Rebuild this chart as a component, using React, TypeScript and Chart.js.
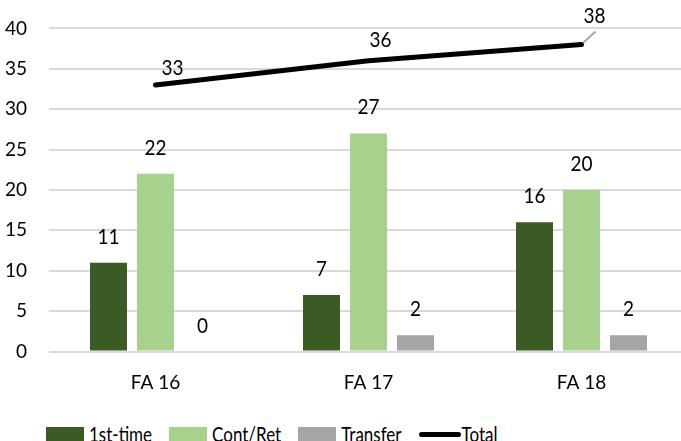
import React, { useEffect, useRef } from "react";
import { Chart, registerables } from "chart.js";

Chart.register(...registerables);

const categories = ["FA 16", "FA 17", "FA 18"];
const firstTime = [11, 7, 16];
const contRet = [22, 27, 20];
const transfer = [0, 2, 2];
const total = [33, 36, 38];
const yMin = 0;
const yMax = 40;
const yStep = 5;

const seriesNames = ["1st-time", "Cont/Ret", "Transfer", "Total"];
const COLORS = ["#3B5A24", "#A9D18E", "#A5A5A5", "#000000"];
const FONT = "Lato, 'Open Sans', sans-serif";
const FS = 19;
// label offsets for the Total line labels (style, not data)
const totalLabelOffsets = [
  [17, -17],
  [12, -21],
  [13, -29],
];

const labelPlugin = {
  id: "valueLabels",
  afterDatasetsDraw(chart: any) {
    const ctx = chart.ctx;
    ctx.save();
    ctx.font = `${FS}px ${FONT}`;
    ctx.fillStyle = "#000";
    ctx.textAlign = "center";
    ctx.textBaseline = "middle";
    const draw = (t: string, x: number, y: number) => {
      ctx.save();
      ctx.translate(x, y);
      ctx.scale(1, 1.15);
      ctx.fillText(t, 0, 0);
      ctx.restore();
    };
    chart.data.datasets.forEach((ds: any, di: number) => {
      const meta = chart.getDatasetMeta(di);
      meta.data.forEach((el: any, i: number) => {
        const v = ds.data[i];
        if (ds.type === "line") {
          const [dx, dy] = totalLabelOffsets[i];
          if (i === 2) {
            ctx.save();
            ctx.strokeStyle = "#A5A5A5";
            ctx.lineWidth = 2;
            ctx.beginPath();
            ctx.moveTo(el.x + 2, el.y - 2);
            ctx.lineTo(el.x + 14, el.y - 13);
            ctx.stroke();
            ctx.restore();
          }
          draw(String(v), el.x + dx, el.y + dy);
        } else {
          draw(String(v), el.x, el.y - 26);
        }
      });
    });
    ctx.restore();
  },
};

export default function App() {
  const ref = useRef<HTMLCanvasElement>(null);
  useEffect(() => {
    const canvas = ref.current!;
    const chart = new Chart(canvas, {
      type: "bar",
      data: {
        labels: categories,
        datasets: [
          {
            type: "line" as any,
            label: seriesNames[3],
            data: total,
            borderColor: COLORS[3],
            backgroundColor: COLORS[3],
            borderWidth: 5,
            borderCapStyle: "round",
            pointRadius: 0,
            order: 0,
          } as any,
          {
            label: seriesNames[0],
            data: firstTime,
            backgroundColor: COLORS[0],
            categoryPercentage: 0.662,
            barPercentage: 0.787,
            order: 1,
          },
          {
            label: seriesNames[1],
            data: contRet,
            backgroundColor: COLORS[1],
            categoryPercentage: 0.662,
            barPercentage: 0.787,
            order: 1,
          },
          {
            label: seriesNames[2],
            data: transfer,
            backgroundColor: COLORS[2],
            categoryPercentage: 0.662,
            barPercentage: 0.787,
            order: 1,
          },
        ],
      },
      options: {
        animation: false,
        responsive: false,
        maintainAspectRatio: false,
        layout: { padding: { top: 23, right: 0, left: 0, bottom: 0 } },
        plugins: {
          legend: { display: false },
          tooltip: { enabled: false },
        },
        scales: {
          x: {
            grid: { display: false, drawTicks: false },
            border: { display: false },
            ticks: {
              color: "#000",
              font: { family: FONT, size: FS },
              padding: 20,
            },
            afterFit: (s: any) => {
              s.height = 43.5;
            },
          },
          y: {
            min: yMin,
            max: yMax,
            grid: { color: "#D9D9D9", lineWidth: 2, drawTicks: false },
            border: { display: false },
            ticks: {
              stepSize: yStep,
              color: "#000",
              font: { family: FONT, size: FS },
              padding: 22,
            },
            afterFit: (s: any) => {
              s.width = 49;
            },
          },
        },
      },
      plugins: [labelPlugin],
    });
    return () => chart.destroy();
  }, []);

  const legendItem = (i: number) => (
    <div key={i} style={{ display: "flex", alignItems: "center", marginRight: i === 3 ? 0 : 17 }}>
      {i < 3 ? (
        <div style={{ width: 38, height: 14, background: COLORS[i], marginRight: 5 }} />
      ) : (
        <div style={{ width: 42, height: 5, borderRadius: 3, background: COLORS[i], marginRight: 1 }} />
      )}
      <span style={{ display: "inline-block", transform: "scaleY(1.25)" }}>{seriesNames[i]}</span>
    </div>
  );

  return (
    <div style={{ position: "absolute", left: 0, top: 0, width: 681, height: 441, overflow: "hidden", background: "#fff" }}>
      <canvas ref={ref} width={688} height={400} style={{ position: "absolute", left: 0, top: -5 }} />
      <div
        style={{
          position: "absolute",
          left: 46,
          top: 423,
          display: "flex",
          alignItems: "center",
          fontFamily: FONT,
          fontSize: 17,
          lineHeight: "22px",
          color: "#000",
          whiteSpace: "nowrap",
        }}
      >
        {[0, 1, 2, 3].map(legendItem)}
      </div>
    </div>
  );
}
